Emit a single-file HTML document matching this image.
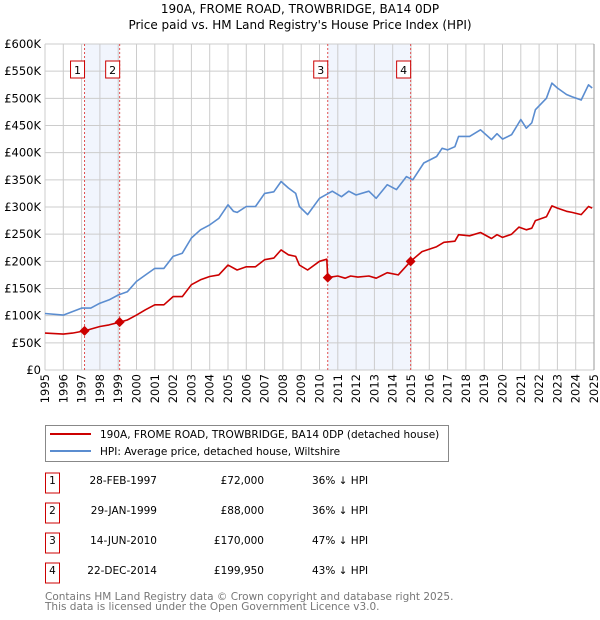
<!DOCTYPE html>
<html><head><meta charset="utf-8"><style>
body{margin:0;background:#fff;width:600px;height:620px;overflow:hidden;font-family:"DejaVu Sans","Liberation Sans",sans-serif}
svg{display:block}
</style></head><body>
<svg id="c" width="600" height="620" font-family="DejaVu Sans, Liberation Sans, sans-serif">
<text x="300" y="13" text-anchor="middle" font-size="12">190A, FROME ROAD, TROWBRIDGE, BA14 0DP</text>
<text x="300" y="29" text-anchor="middle" font-size="12">Price paid vs. HM Land Registry's House Price Index (HPI)</text>
<g id="plot"></g>
<g>
<rect x="45.5" y="425.5" width="403" height="36" fill="#fff" stroke="#888"/>
<line x1="50" y1="434" x2="91" y2="434" stroke="#cc0000" stroke-width="2"/>
<text x="100" y="438" font-size="10.5">190A, FROME ROAD, TROWBRIDGE, BA14 0DP (detached house)</text>
<line x1="50" y1="451" x2="91" y2="451" stroke="#5b8dd0" stroke-width="2"/>
<text x="100" y="455" font-size="10.5">HPI: Average price, detached house, Wiltshire</text>
</g>
<g id="tbl" font-size="10.5"></g>
<text x="45" y="600" font-size="10.5" fill="#777">Contains HM Land Registry data © Crown copyright and database right 2025.</text>
<text x="45" y="610" font-size="10.5" fill="#777">This data is licensed under the Open Government Licence v3.0.</text>
</svg>
<script>
const hpiYears=[1995,1996,1997,1997.5,1998,1998.5,1999,1999.5,2000,2000.5,2001,2001.5,2002,2002.5,2003,2003.5,2004,2004.5,2005,2005.3,2005.5,2006,2006.5,2007,2007.5,2007.9,2008.3,2008.7,2008.9,2009.35,2010,2010.7,2011.2,2011.6,2012,2012.7,2013.1,2013.7,2014.2,2014.75,2015.1,2015.7,2016.4,2016.7,2017,2017.4,2017.6,2018.2,2018.8,2019.4,2019.7,2020,2020.5,2021,2021.3,2021.6,2021.8,2022.4,2022.7,2023,2023.5,2023.8,2024.3,2024.7,2024.9];
const hpiValues=[104,101,114,114,123,129,138,144,163,175,187,187,209,215,243,258,267,279,304,292,290,301,301,325,328,347,335,325,301,286,316,329,319,329,322,329,316,341,332,356,350,381,393,408,405,411,430,430,442,424,435,425,433,461,445,455,479,500,528,519,507,503,497,525,519];
const paidYears=[1995,1996,1996.5,1997.16,1998,1998.5,1999.08,1999.5,2000,2000.5,2001,2001.5,2002,2002.5,2003,2003.5,2004,2004.5,2005,2005.5,2006,2006.5,2007,2007.5,2007.9,2008.3,2008.7,2008.9,2009.35,2010,2010.4,2010.45,2011,2011.4,2011.7,2012.1,2012.7,2013.1,2013.7,2014.3,2014.98,2015.6,2016.4,2016.8,2017.4,2017.6,2018.2,2018.8,2019.4,2019.7,2020,2020.5,2020.9,2021.3,2021.6,2021.8,2022.4,2022.7,2023,2023.5,2023.8,2024.3,2024.7,2024.9];
const paidValues=[68,66,68,72,80,83,88,92,101,111,120,120,135,135,157,166,172,175,193,184,190,190,203,206,221,212,209,193,184,200,204,170,173,169,173,171,173,169,179,175,200,218,227,235,237,249,247,253,242,249,244,250,263,258,261,275,282,302,298,292,290,286,301,298];
const saleLabels=["1","2","3","4"];
const saleYears=[1997.16,1999.08,2010.45,2014.98];
const saleValues=[72,88,170,199.95];
const saleDates=["28-FEB-1997","29-JAN-1999","14-JUN-2010","22-DEC-2014"];
const salePrices=["£72,000","£88,000","£170,000","£199,950"];
const saleDiffs=["36% ↓ HPI","36% ↓ HPI","47% ↓ HPI","43% ↓ HPI"];
const yTicks=[0,50,100,150,200,250,300,350,400,450,500,550,600];
const xTicks=[1995,1996,1997,1998,1999,2000,2001,2002,2003,2004,2005,2006,2007,2008,2009,2010,2011,2012,2013,2014,2015,2016,2017,2018,2019,2020,2021,2022,2023,2024,2025];

const X0=45,X1=594,Y0=370,Y1=44;
const xs=y=>X0+(y-1995)/30*(X1-X0);
const ys=v=>Y0-v/600*(Y0-Y1);
const NS="http://www.w3.org/2000/svg";
const plot=document.getElementById('plot');
function mk(tag,attrs,parent){const e=document.createElementNS(NS,tag);for(const k in attrs)e.setAttribute(k,attrs[k]);(parent||plot).appendChild(e);return e;}
// shaded spans
for(let i=0;i<saleYears.length;i+=2){
  const r=mk('rect',{x:xs(saleYears[i]),y:Y1,width:xs(saleYears[i+1])-xs(saleYears[i]),height:Y0-Y1,fill:'#eef3fc',opacity:0.8});
  
  
}
// grid
yTicks.forEach(v=>{
  const l=mk('line',{x1:X0,x2:X1,y1:ys(v),y2:ys(v),stroke:'#ccc','stroke-width':1});
  
  
  const t=mk('text',{x:X0-4,y:ys(v)+4,'text-anchor':'end','font-size':11.5});
  
  
  t.textContent=v===0?'£0':'£'+v+'K';
});
xTicks.forEach(yr=>{
  const l=mk('line',{x1:xs(yr),x2:xs(yr),y1:Y1,y2:Y0,stroke:'#ccc','stroke-width':1});
  
  
  const t=mk('text',{x:0,y:0,'text-anchor':'end','font-size':11.5,transform:`translate(${xs(yr)+4},374) rotate(-90)`});
  
  
  t.textContent=yr;
});
// sale vertical lines
saleYears.forEach((yr,i)=>{
  const l=mk('line',{x1:xs(yr),x2:xs(yr),y1:Y1,y2:Y0,stroke:'#e05050','stroke-width':1,'stroke-dasharray':'2,2'});
  
  
  const b=mk('rect',{x:xs(yr)-14,y:61,width:14,height:17,fill:'#fff',stroke:'#cc0000'});
  
  
  const t=mk('text',{x:xs(yr)-7,y:74,'text-anchor':'middle','font-size':11});
  
  
  t.textContent=saleLabels[i];
});
function line(xa,va,color,name){
  const p=mk('polyline',{points:xa.map((y,i)=>xs(y).toFixed(1)+','+ys(va[i]).toFixed(1)).join(' '),fill:'none',stroke:color,'stroke-width':1.6,'stroke-linejoin':'round'});
  
  
}
line(hpiYears,hpiValues,'#5b8dd0','hpi-line');
line(paidYears,paidValues,'#cc0000','price-paid-line');
saleYears.forEach((yr,i)=>{
  const cx=xs(yr),cy=ys(saleValues[i]);
  const d=mk('polygon',{points:`${cx},${cy-5} ${cx+5},${cy} ${cx},${cy+5} ${cx-5},${cy}`,fill:'#cc0000'});
  
  
});
mk('line',{x1:X1,x2:X1,y1:Y1,y2:Y0,stroke:'#999'});
// table
const tbl=document.getElementById('tbl');
saleLabels.forEach((lb,i)=>{
  const cy=483+i*30;
  const g=mk('g',{},tbl);
  
  
  mk('rect',{x:45.5,y:cy-10,width:14,height:20,fill:'#fff',stroke:'#cc0000'},g);
  const a=mk('text',{x:52.5,y:cy+1,'text-anchor':'middle'},g);a.textContent=lb;
  const b=mk('text',{x:157,y:cy+1,'text-anchor':'end'},g);b.textContent=saleDates[i];
  const c=mk('text',{x:264,y:cy+1,'text-anchor':'end'},g);c.textContent=salePrices[i];
  const d=mk('text',{x:312,y:cy+1},g);d.textContent=saleDiffs[i];
});
</script>
</body></html>
